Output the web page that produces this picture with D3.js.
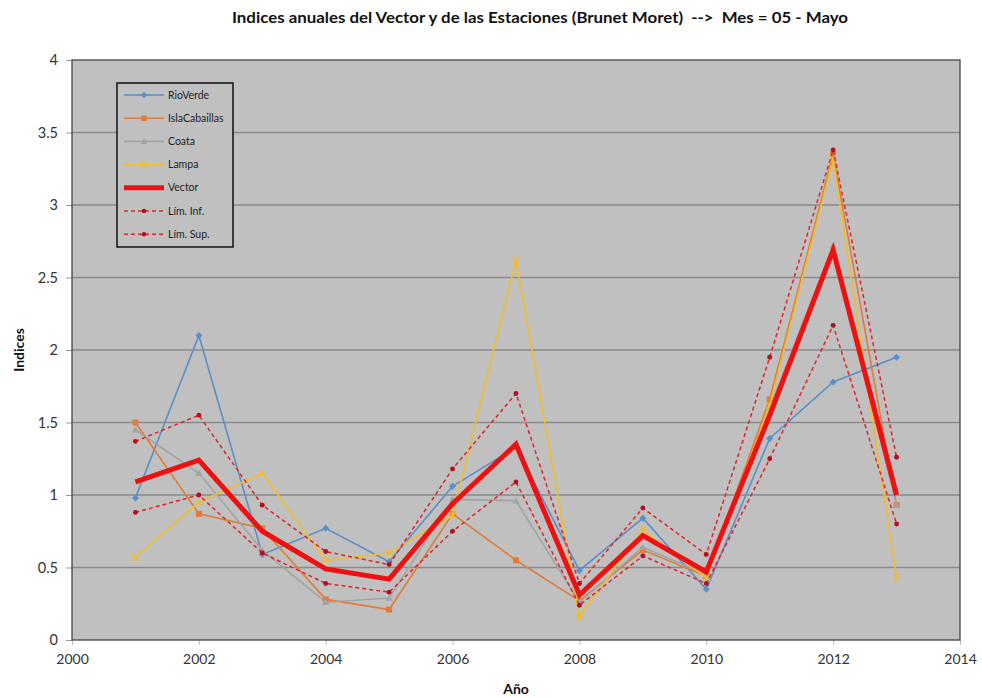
<!DOCTYPE html>
<html><head><meta charset="utf-8">
<script src="https://cdn.jsdelivr.net/npm/d3@7"></script>
<style>body{margin:0;background:#fff;} svg{display:block;}</style>
</head><body>
<svg id="c" width="982" height="698"></svg>
<script>
const years = [2001,2002,2003,2004,2005,2006,2007,2008,2009,2010,2011,2012,2013];
const rioVerde = [0.98,2.10,0.59,0.77,0.54,1.06,1.33,0.48,0.84,0.35,1.39,1.78,1.95];
const islaCaballas = [1.50,0.87,0.77,0.28,0.21,0.87,0.55,0.27,0.62,0.44,1.66,3.35,0.93];
const coata = [1.45,1.15,0.62,0.26,0.29,0.97,0.96,0.26,0.64,0.45,1.60,2.72,0.93];
const lampa = [0.57,0.95,1.15,0.55,0.60,0.86,2.62,0.16,0.76,0.43,1.62,3.32,0.43];
const vector = [1.09,1.24,0.75,0.49,0.42,0.94,1.35,0.31,0.72,0.47,1.55,2.69,1.00];
const limInf = [0.88,1.00,0.60,0.39,0.33,0.75,1.09,0.24,0.58,0.39,1.25,2.17,0.80];
const limSup = [1.37,1.55,0.93,0.61,0.52,1.18,1.70,0.39,0.91,0.59,1.95,3.38,1.26];
const seriesNames = ["RioVerde","IslaCabaillas","Coata","Lampa","Vector","Lím. Inf.","Lím. Sup."];
const xTicks = [2000,2002,2004,2006,2008,2010,2012,2014];
const yTicks = [0,0.5,1,1.5,2,2.5,3,3.5,4];
const title = "Indices anuales del Vector y de las Estaciones (Brunet Moret)  -->  Mes = 05 - Mayo";

const series = [
  {name: seriesNames[0], values: rioVerde, color:"#5b8fc7", width:1.6, dash:null, marker:"diamond"},
  {name: seriesNames[1], values: islaCaballas, color:"#e07b39", width:1.6, dash:null, marker:"square"},
  {name: seriesNames[2], values: coata, color:"#a3a3a3", width:1.6, dash:null, marker:"triangle"},
  {name: seriesNames[3], values: lampa, color:"#f2bd2a", width:1.6, dash:null, marker:"cross"},
  {name: seriesNames[4], values: vector, color:"#ee1111", width:5, dash:null, marker:null},
  {name: seriesNames[5], values: limInf, color:"#e02428", width:1.5, dash:"4,3", marker:"circle"},
  {name: seriesNames[6], values: limSup, color:"#e02428", width:1.5, dash:"4,3", marker:"circle"}
];

const svg = d3.select("#c");
const font = "Lato, 'Open Sans', sans-serif";
const x = d3.scaleLinear().domain([2000,2014]).range([72,960]);
const y = d3.scaleLinear().domain([0,4]).range([640,60]);

// plot area
svg.append("rect").attr("x",x(2000)).attr("y",y(4)).attr("width",x(2014)-x(2000)).attr("height",y(0)-y(4))
  .attr("fill","#c0c0c0");
// gridlines
svg.append("g").selectAll("line").data(yTicks.filter(d=>d>0 && d<4)).join("line")
  .attr("x1",x(2000)).attr("x2",x(2014)).attr("y1",d=>y(d)).attr("y2",d=>y(d))
  .attr("stroke","#8a8a8a").attr("stroke-width",1.3);

// axes
const yAxis = d3.axisLeft(y).tickValues(yTicks).tickSize(6).tickPadding(8).tickFormat(d3.format("~g"));
const gy = svg.append("g").attr("transform",`translate(${x(2000)},0)`).call(yAxis);
gy.select(".domain").remove();
gy.selectAll(".tick line").attr("stroke","#999");
gy.selectAll("text").attr("font-family",font).attr("font-size",14.5).attr("fill","#333");

const xAxis = d3.axisBottom(x).tickValues(xTicks).tickSize(5).tickPadding(9).tickFormat(d3.format("d"));
const gx = svg.append("g").attr("transform",`translate(0,${y(0)})`).call(xAxis);
gx.select(".domain").remove();
gx.selectAll(".tick line").attr("stroke","#bbb");
gx.selectAll("text").attr("font-family",font).attr("font-size",14).attr("fill","#333");

// frame
svg.append("rect").attr("x",x(2000)).attr("y",y(4)).attr("width",x(2014)-x(2000)).attr("height",y(0)-y(4))
  .attr("fill","none").attr("stroke","#444").attr("stroke-width",1.3);

// markers
function drawMarker(g, type, cx, cy, color, s) {
  if (type==="diamond") {
    g.append("path").attr("d",`M${cx},${cy-s}L${cx+s},${cy}L${cx},${cy+s}L${cx-s},${cy}Z`).attr("fill",color);
  } else if (type==="square") {
    g.append("rect").attr("x",cx-s*0.85).attr("y",cy-s*0.85).attr("width",s*1.7).attr("height",s*1.7).attr("fill",color);
  } else if (type==="triangle") {
    g.append("path").attr("d",`M${cx},${cy-s}L${cx+s},${cy+s*0.8}L${cx-s},${cy+s*0.8}Z`).attr("fill",color);
  } else if (type==="cross") {
    g.append("path").attr("d",`M${cx-s},${cy-s}L${cx+s},${cy+s}M${cx-s},${cy+s}L${cx+s},${cy-s}`).attr("stroke",color).attr("stroke-width",1.3);
  } else if (type==="circle") {
    g.append("circle").attr("cx",cx).attr("cy",cy).attr("r",s*0.7).attr("fill","#b01020");
  }
}

const line = d3.line().x((d,i)=>x(years[i])).y(d=>y(d));
series.forEach(s=>{
  const g = svg.append("g");
  g.append("path").attr("d",line(s.values)).attr("fill","none").attr("stroke",s.color)
    .attr("stroke-width",s.width).attr("stroke-dasharray",s.dash).attr("stroke-linejoin","miter");
  if (s.marker) s.values.forEach((v,i)=>drawMarker(g,s.marker,x(years[i]),y(v),s.color,3.5));
});

// legend
const lg = svg.append("g");
lg.append("rect").attr("x",117).attr("y",83).attr("width",116).attr("height",164)
  .attr("fill","#c0c0c0").attr("stroke","#111").attr("stroke-width",1.5);
series.forEach((s,i)=>{
  const ly = 95 + i*23.2;
  lg.append("line").attr("x1",124).attr("x2",164).attr("y1",ly).attr("y2",ly)
    .attr("stroke",s.color).attr("stroke-width",s.width).attr("stroke-dasharray",s.dash);
  if (s.marker) drawMarker(lg,s.marker,144,ly,s.color,3.2);
  lg.append("text").attr("x",168).attr("y",ly+3.5).text(s.name)
    .attr("font-family",font).attr("font-size",10.5).attr("fill","#222");
});

// title & axis labels
svg.append("text").attr("x",540).attr("y",23).attr("text-anchor","middle").text(title)
  .attr("font-family",font).attr("font-weight","bold").attr("font-size",15).attr("fill","#111")
  .attr("textLength",616).attr("lengthAdjust","spacingAndGlyphs")
  .style("white-space","pre").attr("xml:space","preserve");
svg.append("text").attr("x",516).attr("y",694).attr("text-anchor","middle").text("Año")
  .attr("font-family",font).attr("font-weight","bold").attr("font-size",14).attr("fill","#111");
svg.append("text").attr("transform","translate(24,350) rotate(-90)").attr("text-anchor","middle").text("Indices")
  .attr("font-family",font).attr("font-weight","bold").attr("font-size",14).attr("fill","#111");
</script>
</body></html>
